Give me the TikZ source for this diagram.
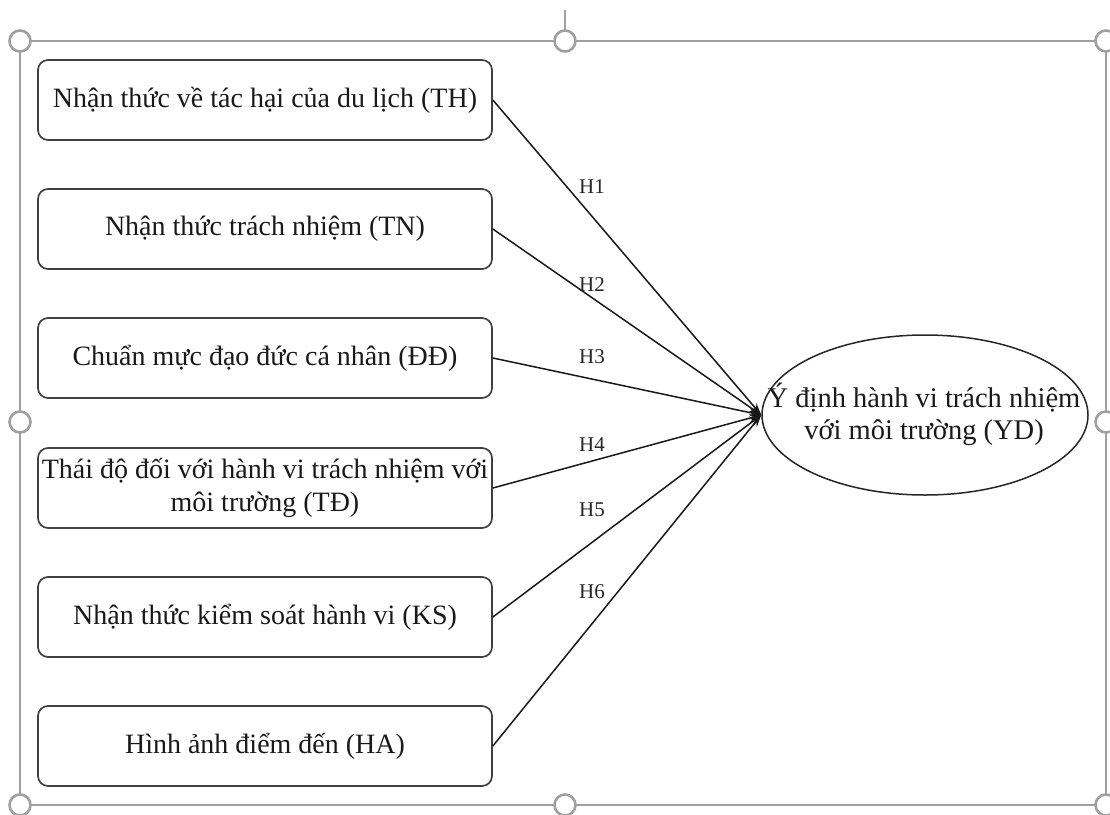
\documentclass[tikz,border=0pt]{standalone}
\usepackage{fontspec}
\setmainfont{Liberation Serif}
\usetikzlibrary{shapes.geometric,arrows.meta}
\definecolor{framegray}{HTML}{A0A0A0}
\definecolor{boxgray}{HTML}{404040}
\tikzset{
  factor/.style={draw=boxgray, line width=1.7pt, rounded corners=10pt, minimum width=454pt, minimum height=80pt, inner sep=0pt, align=center, font=\fontsize{28}{33}\selectfont, text=black!90},
  target/.style={draw=black!85, line width=1.5pt, ellipse, minimum width=326pt, minimum height=160pt, inner sep=0pt},
  targettext/.style={align=center, inner sep=0pt, font=\fontsize{28.5}{32}\selectfont, text=black!90},
  link/.style={draw=black!90, line width=1.5pt, -{Stealth[length=12pt,width=8pt]}},
  hlabel/.style={font=\fontsize{21}{22}\selectfont, text=black!85, inner sep=1pt},
  handle/.style={circle, draw=framegray, line width=2.6pt, fill=white, minimum size=21pt, inner sep=0pt},
  selframe/.style={draw=framegray, line width=2pt}
}
\begin{document}
\begin{tikzpicture}[x=1pt,y=-1pt]
\useasboundingbox (0,0) rectangle (1110,814);
% selection frame
\draw[selframe] (20,41) rectangle (1106,805);
\draw[selframe] (565,10) -- (565,32);
\node[handle] (h1) at (20,41) {};
\node[handle] (h2) at (565,41) {};
\node[handle] (h3) at (1106,41) {};
\node[handle] (h4) at (20,422) {};
\node[handle] (h5) at (1106,422) {};
\node[handle] (h6) at (20,805) {};
\node[handle] (h7) at (565,805) {};
\node[handle] (h8) at (1106,805) {};
% factors
\node[factor] (TH) at (265,100) {Nhận thức về tác hại của du lịch (TH)};
\node[factor] (TN) at (265,229) {Nhận thức trách nhiệm (TN)};
\node[factor] (DD) at (265,358) {Chuẩn mực đạo đức cá nhân (ĐĐ)};
\node[factor] (TD) at (265,488) {Thái độ đối với hành vi trách nhiệm với\\môi trường (TĐ)};
\node[factor] (KS) at (265,617) {Nhận thức kiểm soát hành vi (KS)};
\node[factor] (HA) at (265,746) {Hình ảnh điểm đến (HA)};
% target
\node[target] (YD) at (925,415) {};
\node[targettext] (YDt) at (924,414) {Ý định hành vi trách nhiệm\\với môi trường (YD)};
% links
\draw[link] (TH.east) -- (YD.west);
\draw[link] (TN.east) -- (YD.west);
\draw[link] (DD.east) -- (YD.west);
\draw[link] (TD.east) -- (YD.west);
\draw[link] (KS.east) -- (YD.west);
\draw[link] (HA.east) -- (YD.west);
% labels
\node[hlabel] (l1) at (592,187) {H1};
\node[hlabel] (l2) at (592,285) {H2};
\node[hlabel] (l3) at (592,357) {H3};
\node[hlabel] (l4) at (592,445) {H4};
\node[hlabel] (l5) at (592,510) {H5};
\node[hlabel] (l6) at (592,592) {H6};
\end{tikzpicture}
\end{document}
